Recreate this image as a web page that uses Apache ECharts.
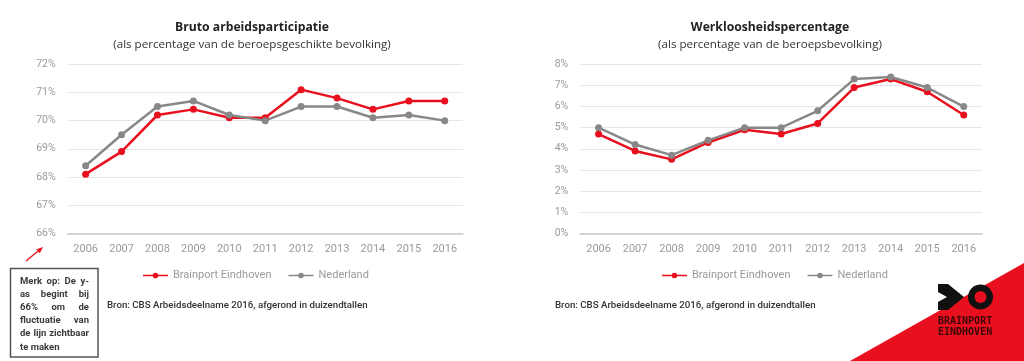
<!DOCTYPE html>
<html>
<head>
<meta charset="utf-8">
<script src="https://cdn.jsdelivr.net/npm/echarts@6/dist/echarts.min.js"></script>
<style>
html,body{margin:0;padding:0;background:#fff;}
#chart{width:1024px;height:361px;}
</style>
</head>
<body>
<div id="chart"></div>
<script>
const years = ['2006','2007','2008','2009','2010','2011','2012','2013','2014','2015','2016'];
const participatieBrainport = [68.1, 68.9, 70.2, 70.4, 70.1, 70.1, 71.1, 70.8, 70.4, 70.7, 70.7];
const participatieNederland = [68.4, 69.5, 70.5, 70.7, 70.2, 70.0, 70.5, 70.5, 70.1, 70.2, 70.0];
const werkloosheidBrainport = [4.7, 3.9, 3.5, 4.3, 4.9, 4.7, 5.2, 6.9, 7.3, 6.7, 5.6];
const werkloosheidNederland = [5.0, 4.2, 3.7, 4.4, 5.0, 5.0, 5.8, 7.3, 7.4, 6.9, 6.0];
const seriesNames = ['Brainport Eindhoven', 'Nederland'];
const noteLines = ['Merk op: De y-', 'as begint bij', '66% om de', 'fluctuatie van', 'de lijn zichtbaar', 'te maken'];

const RED = '#e8101e';
const GRAY = '#888888';
const FONT = 'Roboto';
const TFONT = 'Open Sans';

const chart = echarts.init(document.getElementById('chart'), null, {renderer: 'canvas'});

function xAxisDef(gi) {
  return {
    type: 'category', gridIndex: gi, data: years, boundaryGap: true,
    axisLine: {show: true, lineStyle: {color: '#d4d4d4', width: 2}},
    axisTick: {show: false},
    axisLabel: {color: '#9a9a9a', fontSize: 11, fontFamily: FONT, margin: 10}
  };
}
function yAxisDef(gi, min, max) {
  return {
    type: 'value', gridIndex: gi, min: min, max: max, interval: 1,
    axisLine: {show: false}, axisTick: {show: false},
    splitLine: {lineStyle: {color: '#e6e6e6', width: 1}},
    axisLabel: {color: '#9a9a9a', fontSize: 10.5, fontFamily: FONT, margin: 12, formatter: '{value}%'}
  };
}
function lineSeries(name, data, color, gi) {
  return {
    name: name, type: 'line', data: data, xAxisIndex: gi, yAxisIndex: gi,
    symbol: 'circle', symbolSize: 7, showSymbol: true,
    lineStyle: {color: color, width: 2.5},
    itemStyle: {color: color},
    emphasis: {disabled: true}, animation: false
  };
}

// Justified note text
const measureCtx = document.createElement('canvas').getContext('2d');
const noteFont = 'bold 9.5px ' + FONT;
measureCtx.font = noteFont;
const noteLeft = 20, noteRight = 89, noteTop = 281.7, noteLH = 13.1;
const noteTexts = [];
noteLines.forEach(function (line, li) {
  const words = line.split(' ');
  const y = noteTop + li * noteLH;
  if (li === noteLines.length - 1 || words.length === 1) {
    noteTexts.push({type: 'text', x: noteLeft, y: y, style: {text: line, font: noteFont, fill: '#3a3a3a', verticalAlign: 'middle'}});
    return;
  }
  const widths = words.map(w => measureCtx.measureText(w).width);
  const total = widths.reduce((a, b) => a + b, 0);
  const gap = (noteRight - noteLeft - total) / (words.length - 1);
  let x = noteLeft;
  words.forEach(function (w, i) {
    noteTexts.push({type: 'text', x: x, y: y, style: {text: w, font: noteFont, fill: '#3a3a3a', verticalAlign: 'middle'}});
    x += widths[i] + gap;
  });
});

const legendIcon = 'path://M0,4.2 L25,4.2 L25,5.8 L0,5.8 Z M12.5,2.2 A2.8,2.8 0 1 1 12.49,2.2 Z';

const option = {
  backgroundColor: '#ffffff',
  animation: false,
  title: [
    {text: 'Bruto arbeidsparticipatie', left: 252, top: 21.5, textAlign: 'center', padding: 0,
     textStyle: {fontFamily: TFONT, fontSize: 12.2, fontWeight: 'bold', color: '#222'}},
    {text: '(als percentage van de beroepsgeschikte bevolking)', left: 252, top: 38.5, textAlign: 'center', padding: 0,
     textStyle: {fontFamily: TFONT, fontSize: 11.6, fontWeight: 'normal', color: '#333'}},
    {text: 'Werkloosheidspercentage', left: 770, top: 21.5, textAlign: 'center', padding: 0,
     textStyle: {fontFamily: TFONT, fontSize: 12.2, fontWeight: 'bold', color: '#222'}},
    {text: '(als percentage van de beroepsbevolking)', left: 770, top: 38.5, textAlign: 'center', padding: 0,
     textStyle: {fontFamily: TFONT, fontSize: 11.6, fontWeight: 'normal', color: '#333'}}
  ],
  legend: [
    {data: seriesNames.map(n => ({name: n, icon: legendIcon})), left: 143, top: 270, padding: 0, itemGap: 17, itemWidth: 25, itemHeight: 10,
     textStyle: {color: '#9a9a9a', fontSize: 11, fontFamily: FONT}},
    {data: seriesNames.map(n => ({name: n, icon: legendIcon})), left: 662, top: 270, padding: 0, itemGap: 17, itemWidth: 25, itemHeight: 10,
     textStyle: {color: '#9a9a9a', fontSize: 11, fontFamily: FONT}}
  ],
  grid: [
    {left: 67.7, top: 64.3, width: 395, height: 169, containLabel: false},
    {left: 580.3, top: 64.3, width: 401.7, height: 169, containLabel: false}
  ],
  xAxis: [xAxisDef(0), xAxisDef(1)],
  yAxis: [yAxisDef(0, 66, 72), yAxisDef(1, 0, 8)],
  series: [
    lineSeries(seriesNames[0], participatieBrainport, RED, 0),
    lineSeries(seriesNames[1], participatieNederland, GRAY, 0),
    lineSeries(seriesNames[0], werkloosheidBrainport, RED, 1),
    lineSeries(seriesNames[1], werkloosheidNederland, GRAY, 1)
  ],
  graphic: [
    {type: 'text', x: 107, y: 305.7, style: {text: 'Bron: CBS Arbeidsdeelname 2016, afgerond in duizendtallen', font: '500 9.7px ' + FONT, fill: '#333', verticalAlign: 'middle'}},
    {type: 'text', x: 555, y: 305.7, style: {text: 'Bron: CBS Arbeidsdeelname 2016, afgerond in duizendtallen', font: '500 9.7px ' + FONT, fill: '#333', verticalAlign: 'middle'}},
    // note box
    {type: 'rect', shape: {x: 10.5, y: 268.5, width: 87.5, height: 88.5}, style: {fill: '#fff', stroke: '#555', lineWidth: 1.5}},
    ...noteTexts,
    // arrow
    {type: 'line', shape: {x1: 26, y1: 261, x2: 40, y2: 249.5}, style: {stroke: RED, lineWidth: 1.3}},
    {type: 'polygon', shape: {points: [[43, 247], [36.5, 249.3], [39.8, 253.3]]}, style: {fill: RED}},
    // logo
    {type: 'polygon', shape: {points: [[850, 361], [1024, 263], [1024, 361]]}, style: {fill: '#e8101e'}},
    {type: 'polygon', shape: {points: [[938, 284], [948, 284], [964, 297], [948, 310], [938, 310], [938, 302], [947, 297], [938, 292]]}, style: {fill: '#111'}},
    {type: 'circle', shape: {cx: 980.5, cy: 297, r: 12.5}, style: {fill: '#111'}},
    {type: 'circle', shape: {cx: 980.5, cy: 297, r: 6}, style: {fill: '#e8101e'}},
    {type: 'text', x: 938, y: 321.7, style: {text: 'BRAINPORT', font: 'bold 10px "DejaVu Sans Mono"', fill: '#3a0808', verticalAlign: 'middle'}},
    {type: 'text', x: 938, y: 332.5, style: {text: 'EINDHOVEN', font: 'bold 10px "DejaVu Sans Mono"', fill: '#3a0808', verticalAlign: 'middle'}}
  ]
};
chart.setOption(option);
</script>
</body>
</html>
